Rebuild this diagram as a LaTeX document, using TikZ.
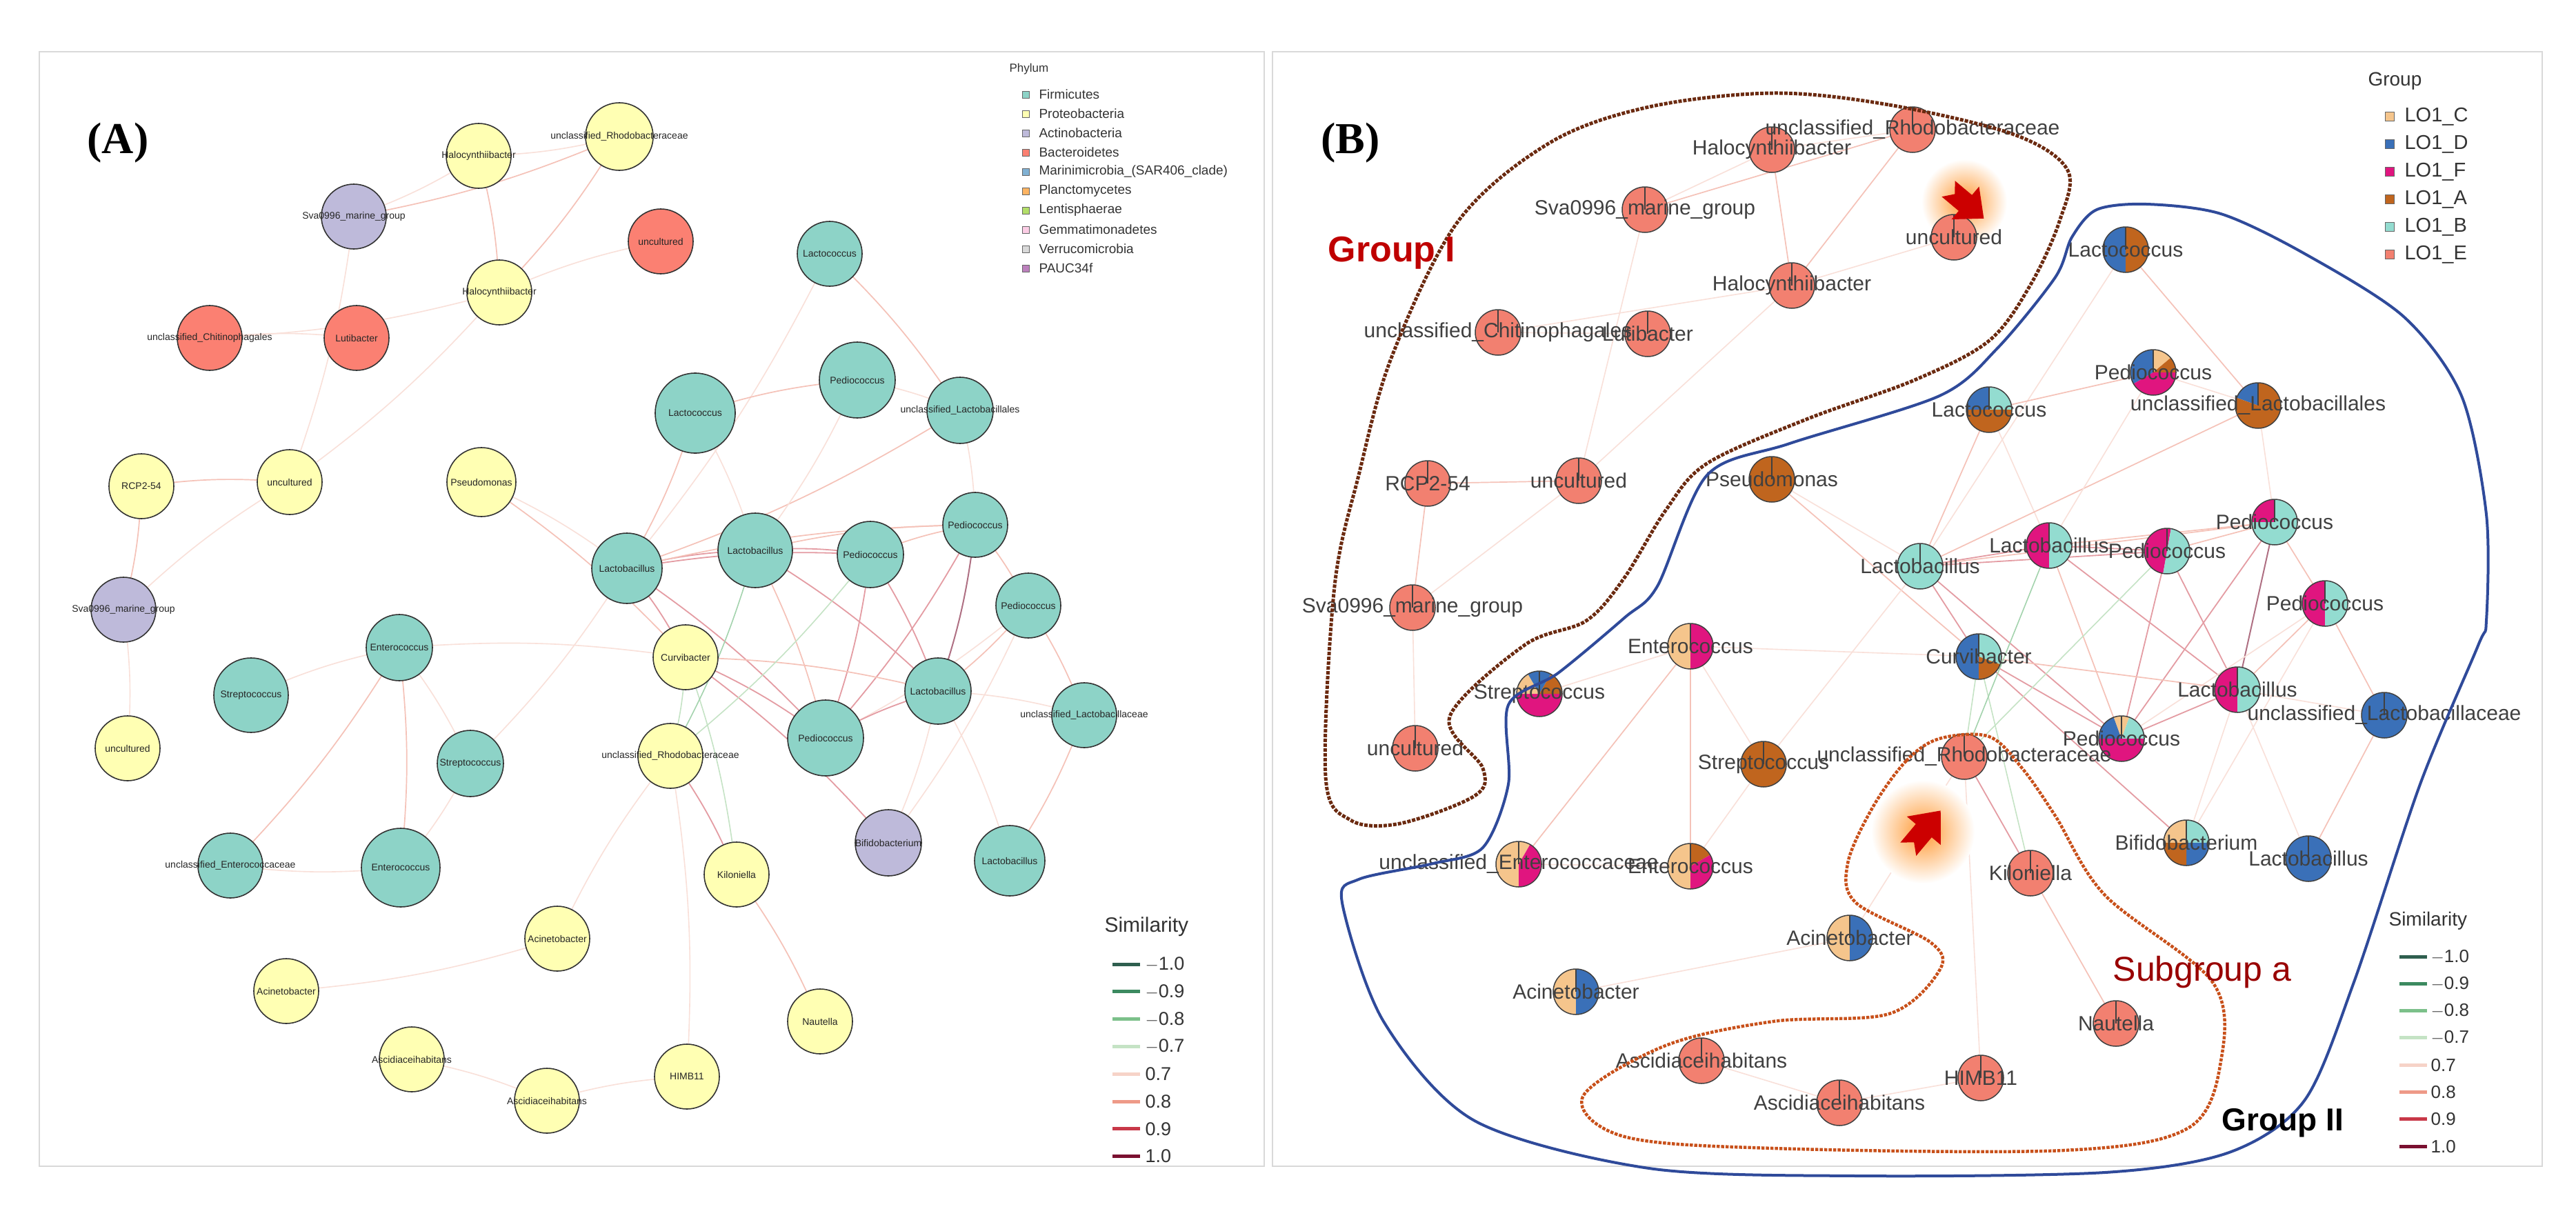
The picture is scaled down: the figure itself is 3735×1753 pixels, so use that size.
\documentclass[tikz,border=0pt]{standalone}
\usepackage{fontspec}
\setmainfont{Liberation Sans}
\newfontfamily\serifB{Liberation Serif}
\begin{document}
\begin{tikzpicture}[x=1pt,y=-1pt]
\definecolor{sTeal}{HTML}{8DD3C7}\definecolor{sYel}{HTML}{FFFFB3}\definecolor{sPur}{HTML}{BEBADA}
\definecolor{sRed}{HTML}{FB8072}\definecolor{sBlu}{HTML}{80B1D3}\definecolor{sOra}{HTML}{FDB462}
\definecolor{sGrn}{HTML}{B3DE69}\definecolor{sPnk}{HTML}{FCCDE5}\definecolor{sGry}{HTML}{D9D9D9}\definecolor{sVio}{HTML}{BC80BD}
\definecolor{cC}{HTML}{F5C58C}\definecolor{cD}{HTML}{3A70B8}\definecolor{cF}{HTML}{E0157F}
\definecolor{cA}{HTML}{C0651E}\definecolor{cB}{HTML}{93DCD0}\definecolor{cE}{HTML}{F28070}
\definecolor{m10}{HTML}{2F5F4F}\definecolor{m9}{HTML}{3C8A60}\definecolor{m8}{HTML}{7CC08A}\definecolor{m7}{HTML}{C5E3C5}
\definecolor{p7}{HTML}{F6D3C8}\definecolor{p8}{HTML}{EE9A88}\definecolor{p9}{HTML}{C83848}\definecolor{p10}{HTML}{7A1030}
\definecolor{gIcol}{HTML}{6B2A10}\definecolor{gIIcol}{HTML}{2F4A9A}\definecolor{sgcol}{HTML}{C8501A}
\tikzset{
 e7/.style={draw=p7!70,line width=1.6},e8/.style={draw=p8!60,line width=1.7},
 e9/.style={draw=p9!50,line width=1.8},e10/.style={draw=p10!60,line width=2},
 g7/.style={draw=m7,line width=1.6},g8/.style={draw=m8!70,line width=1.6},
 anode/.style={draw=black!80,line width=1.6},
 alab/.style={font=\fontsize{14}{14}\selectfont,text=black!85},
 blab/.style={font=\fontsize{30}{30}\selectfont,text=black!75},
 leg/.style={anchor=west,font=\fontsize{19}{19}\selectfont,text=black!80},
 simleg/.style={anchor=west,font=\fontsize{27}{27}\selectfont,text=black!80}
}
\useasboundingbox (0,0) rectangle (3735,1753);
\fill[white] (0,0) rectangle (3735,1753);
\draw[black!15,line width=2] (57,75) rectangle (1833,1691);
\draw[black!15,line width=2] (1845,75) rectangle (3686,1691);
\foreach \n/\ax/\ay/\bx/\by in {
rhoa/898/198/2773/188, haloa/694/226/2569/217, svaa/513/314/2385/304, unca/958/350/2833/344,
halob/724/424/2598/414, chit/304/490/2172/482, lut/517/490/2389/484, laca/1203/368/3082/362,
peda/1243/551/3122/540, lacb/1008/599/2884/594, ulb/1392/595/3274/588, rcp/205/705/2070/701,
uncb/420/699/2289/697, pse/698/699/2569/695, lba/909/824/2784/821, lbb/1095/798/2971/791,
pedb/1262/804/3142/799, pedc/1414/761/3298/757, pedd/1491/878/3371/875, svab/179/884/2048/881,
enta/579/939/2451/937, stra/364/1008/2232/1006, uncc/185/1085/2052/1085, cur/994/953/2869/952,
lbc/1360/1002/3244/1000, ulc/1572/1037/3457/1037, strb/682/1107/2557/1108, rhob/972/1096/2848/1097,
pede/1197/1070/3076/1071, bif/1288/1222/3170/1222, lbd/1464/1248/3347/1245, uec/334/1255/2202/1253,
entb/581/1258/2451/1256, kil/1068/1268/2944/1266, acia/808/1361/2682/1360, acib/415/1437/2285/1438,
nau/1189/1481/3068/1484, asca/597/1536/2467/1538, him/996/1561/2872/1563, ascb/793/1596/2667/1599}
{\coordinate (A-\n) at (\ax,\ay); \coordinate (B-\n) at (\bx,\by);}
\foreach \u/\v/\s in {rhoa/haloa/e7, rhoa/svaa/e8, rhoa/halob/e8, haloa/halob/e8, haloa/svaa/e7, svaa/uncb/e7,
halob/unca/e7, halob/chit/e7, halob/uncb/e7, rcp/uncb/e8, rcp/svab/e8, svab/uncb/e7, svab/uncc/e7, chit/lut/e7,
laca/ulb/e8, laca/lba/e7, lacb/peda/e8, lacb/lba/e8, lacb/lbb/e7, ulb/pedc/e7, ulb/lba/e8, peda/ulb/e7, peda/lbb/e7,
pse/lba/e7, pse/cur/e8, lba/lbb/e9, lba/pedb/e9, lba/pedc/e8, lba/cur/e9, lba/pede/e9, lbb/pedb/e9, lbb/pedc/e8,
lbb/pede/e8, lbb/lbc/e9, pedb/pedc/e8, pedb/pede/e9, pedb/lbc/e9, pedc/pedd/e8, pedc/lbc/e10, pedd/lbc/e8,
pedd/ulc/e8, pedd/pede/e7, pedc/pede/e9, cur/pede/e9, cur/lbc/e8, cur/rhob/g7, cur/kil/g7, cur/bif/e9,
pede/lbc/e9, lbc/lbd/e7, ulc/lbd/e8, enta/strb/e7, enta/uec/e8, enta/entb/e8, enta/cur/e7, rhob/kil/e9,
kil/nau/e8, rhob/him/e7, acia/acib/e7, acia/rhob/e7, asca/ascb/e7, ascb/him/e7, lbc/bif/e7, pedd/bif/e7,
lbb/rhob/g8, pedb/rhob/g7, entb/uec/e7, stra/enta/e7, strb/entb/e7, lba/strb/e7, lbc/ulc/e7}
{\draw[\s] (A-\u) to[bend left=6] (A-\v); \draw[\s] (B-\u) -- (B-\v);}
\foreach \n/\c/\r/\l in {rhoa/sYel/49/unclassified\_Rhodobacteraceae, haloa/sYel/47/Halocynthiibacter,
svaa/sPur/47/Sva0996\_marine\_group, unca/sRed/47/uncultured, halob/sYel/47/Halocynthiibacter,
chit/sRed/47/unclassified\_Chitinophagales, lut/sRed/47/Lutibacter, laca/sTeal/47/Lactococcus,
peda/sTeal/55/Pediococcus, lacb/sTeal/58/Lactococcus, ulb/sTeal/48/unclassified\_Lactobacillales,
rcp/sYel/47/RCP2-54, uncb/sYel/47/uncultured, pse/sYel/50/Pseudomonas, lba/sTeal/51/Lactobacillus,
lbb/sTeal/54/Lactobacillus, pedb/sTeal/48/Pediococcus, pedc/sTeal/47/Pediococcus, pedd/sTeal/47/Pediococcus,
svab/sPur/47/Sva0996\_marine\_group, enta/sTeal/48/Enterococcus, stra/sTeal/54/Streptococcus,
uncc/sYel/47/uncultured, cur/sYel/47/Curvibacter, lbc/sTeal/48/Lactobacillus,
ulc/sTeal/47/unclassified\_Lactobacillaceae, strb/sTeal/48/Streptococcus,
rhob/sYel/47/unclassified\_Rhodobacteraceae, pede/sTeal/55/Pediococcus, bif/sPur/48/Bifidobacterium,
lbd/sTeal/51/Lactobacillus, uec/sTeal/47/unclassified\_Enterococcaceae, entb/sTeal/57/Enterococcus,
kil/sYel/47/Kiloniella, acia/sYel/47/Acinetobacter, acib/sYel/47/Acinetobacter, nau/sYel/47/Nautella,
asca/sYel/47/Ascidiaceihabitans, him/sYel/47/HIMB11, ascb/sYel/47/Ascidiaceihabitans}
{\draw[anode,fill=\c] (A-\n) circle[radius=\r]; \node[alab] (la-\n) at (A-\n) {\l};}
\shade[inner color=orange!80, outer color=white] (2848,293) circle[radius=62];
\shade[inner color=orange!80, outer color=white] (2788,1206) circle[radius=75];
\newcommand\bpie[2]{\foreach \s/\e/\c in {#2}{\fill[\c] (B-#1) -- ++(\s:33) arc[start angle=\s,end angle=\e,radius=33] -- cycle;}
 \draw[black!75,line width=1.5] (B-#1) circle[radius=33]; \draw[black!75,line width=1.2] (B-#1) -- ++(270:33);}
\foreach \n in {rhoa,haloa,svaa,unca,halob,chit,lut,rcp,uncb,svab,uncc,rhob,kil,nau,asca,him,ascb}{\bpie{\n}{0/360/cE}}
\bpie{laca}{90/270/cD,270/450/cA}
\bpie{peda}{150/270/cD,270/320/cC,320/360/cA,0/150/cF}
\bpie{lacb}{180/270/cD,270/360/cB,0/180/cA}
\bpie{ulb}{200/270/cD,270/560/cA}
\bpie{pse}{0/360/cA}
\bpie{lba}{0/360/cB}
\bpie{lbb}{90/270/cF,270/450/cB}
\bpie{pedb}{100/280/cF,280/460/cB}
\bpie{pedc}{180/270/cF,270/540/cB}
\bpie{pedd}{90/270/cF,270/450/cB}
\bpie{enta}{90/270/cC,270/450/cF}
\bpie{stra}{0/180/cF,180/240/cC,240/300/cD,300/360/cA}
\bpie{cur}{90/270/cD,270/380/cB,20/90/cA}
\bpie{lbc}{90/270/cF,270/450/cB}
\bpie{ulc}{0/360/cD}
\bpie{strb}{0/360/cA}
\bpie{pede}{180/250/cD,250/290/cC,290/360/cB,0/180/cF}
\bpie{bif}{180/270/cC,270/360/cB,0/90/cD,90/180/cA}
\bpie{lbd}{0/360/cD}
\bpie{uec}{90/300/cC,300/450/cF}
\bpie{entb}{90/270/cC,270/330/cA,330/450/cF}
\bpie{acia}{90/270/cC,270/450/cD}
\bpie{acib}{90/270/cC,270/450/cD}
\foreach \n/\l in {rhoa/unclassified\_Rhodobacteraceae, haloa/Halocynthiibacter, svaa/Sva0996\_marine\_group,
unca/uncultured, halob/Halocynthiibacter, chit/unclassified\_Chitinophagales, lut/Lutibacter, laca/Lactococcus,
peda/Pediococcus, lacb/Lactococcus, ulb/unclassified\_Lactobacillales, rcp/RCP2-54, uncb/uncultured,
pse/Pseudomonas, lba/Lactobacillus, lbb/Lactobacillus, pedb/Pediococcus, pedc/Pediococcus, pedd/Pediococcus,
svab/Sva0996\_marine\_group, enta/Enterococcus, stra/Streptococcus, uncc/uncultured, cur/Curvibacter,
lbc/Lactobacillus, ulc/unclassified\_Lactobacillaceae, strb/Streptococcus, rhob/unclassified\_Rhodobacteraceae,
pede/Pediococcus, bif/Bifidobacterium, lbd/Lactobacillus, uec/unclassified\_Enterococcaceae, entb/Enterococcus,
kil/Kiloniella, acia/Acinetobacter, acib/Acinetobacter, nau/Nautella, asca/Ascidiaceihabitans, him/HIMB11,
ascb/Ascidiaceihabitans}
{\node[blab] (lb-\n) at (B-\n) {\l};}
\fill[red!80!black,rotate around={-40:(2848,293)}] (2818,278) -- (2850,278) -- (2850,262) -- (2885,293) -- (2850,324) -- (2850,308) -- (2818,308) -- (2830,293) -- cycle;
\fill[red!80!black,rotate around={50:(2788,1206)}] (2755,1191) -- (2790,1191) -- (2790,1174) -- (2828,1206) -- (2790,1238) -- (2790,1221) -- (2755,1221) -- (2768,1206) -- cycle;
\draw[draw=gIcol,line width=5,dotted] plot[smooth cycle,tension=0.55] coordinates {
(2571,135) (2739,152) (2920,195) (2998,247) (2986,321) (2944,413) (2884,494) (2776,551) (2619,608) (2475,672)
(2415,740) (2355,838) (2300,900) (2211,935) (2102,1039) (2150,1114) (2138,1154) (2030,1194) (1958,1189)
(1922,1126) (1935,850) (1970,689) (2018,517) (2114,321) (2247,207) (2391,155)};
\draw[draw=sgcol,line width=4.5,dotted] plot[smooth cycle,tension=0.55] coordinates {
(2812,1071) (2764,1103) (2715,1171) (2679,1252) (2691,1309) (2800,1367) (2812,1407) (2739,1470) (2571,1481)
(2415,1516) (2295,1590) (2355,1648) (2571,1665) (2992,1668) (3172,1636) (3220,1539) (3208,1424) (3052,1298)
(2980,1183) (2932,1114) (2884,1068)};
\draw[draw=gIIcol,line width=4] plot[smooth cycle,tension=0.5] coordinates {
(3112,296) (3220,310) (3340,367) (3485,459) (3569,574) (3605,746) (3605,900) (3593,936) (3509,1137) (3413,1424)
(3341,1596) (3232,1671) (3052,1700) (2691,1705) (2391,1694) (2138,1625) (2006,1481) (1946,1309) (1970,1275)
(2078,1252) (2150,1229) (2187,1137) (2187,1022) (2259,976) (2355,896) (2403,850) (2475,689) (2595,643)
(2812,574) (2896,505) (2980,402) (3004,344) (3040,304)};
\node[font=\serifB\bfseries\fontsize{64}{64}\selectfont] (tA) at (171,207) {(A)};
\node[font=\serifB\bfseries\fontsize{64}{64}\selectfont] (tB) at (1958,207) {(B)};
\node[anchor=west,font=\bfseries\fontsize{52}{52}\selectfont,text=red!75!black] (g1) at (1922,367) {Group I};
\node[font=\fontsize{50}{50}\selectfont,text=red!60!black] (sga) at (3193,1410) {Subgroup a};
\node[font=\bfseries\fontsize{46}{46}\selectfont] (g2) at (3310,1628) {Group II};
\node[leg,font=\fontsize{17}{17}\selectfont] (ph) at (1460,100) {Phylum};
\foreach \c/\l [count=\i] in {sTeal/Firmicutes,sYel/Proteobacteria,sPur/Actinobacteria,sRed/Bacteroidetes,
sBlu/Marinimicrobia\_(SAR406\_clade),sOra/Planctomycetes,sGrn/Lentisphaerae,sPnk/Gemmatimonadetes,sGry/Verrucomicrobia,sVio/PAUC34f}
{\draw[fill=\c,draw=black!60,line width=1] (1482,137+28*\i-28-5) rectangle ++(10,10);
 \node[leg] (ph\i) at (1503,137+28*\i-28) {\l};}
\node[leg,font=\fontsize{28}{28}\selectfont] (gr) at (3430,118) {Group};
\foreach \c/\l [count=\i] in {cC/LO1\_C,cD/LO1\_D,cF/LO1\_F,cA/LO1\_A,cB/LO1\_B,cE/LO1\_E}
{\draw[fill=\c,draw=black!60,line width=1] (3458,169+40*\i-40-7) rectangle ++(13,13);
 \node[leg,font=\fontsize{29}{29}\selectfont] (gl\i) at (3483,169+40*\i-40) {\l};}
\node[simleg,font=\fontsize{30}{30}\selectfont] (sA) at (1598,1344) {Similarity};
\node[simleg,font=\fontsize{28}{28}\selectfont] (sB) at (3460,1335) {Similarity};
\foreach \c/\l [count=\i] in {m10/$-$1.0,m9/$-$0.9,m8/$-$0.8,m7/$-$0.7,p7/0.7,p8/0.8,p9/0.9,p10/1.0}
{\draw[\c,line width=5] (1613,1398+39.8*\i-39.8) -- ++(40,0);
 \node[simleg] (sa\i) at (1657,1398+39.8*\i-39.8) {\l};
 \draw[\c,line width=5] (3479,1387+39.3*\i-39.3) -- ++(40,0);
 \node[simleg,font=\fontsize{26}{26}\selectfont] (sb\i) at (3521,1387+39.3*\i-39.3) {\l};}
\end{tikzpicture}
\end{document}
